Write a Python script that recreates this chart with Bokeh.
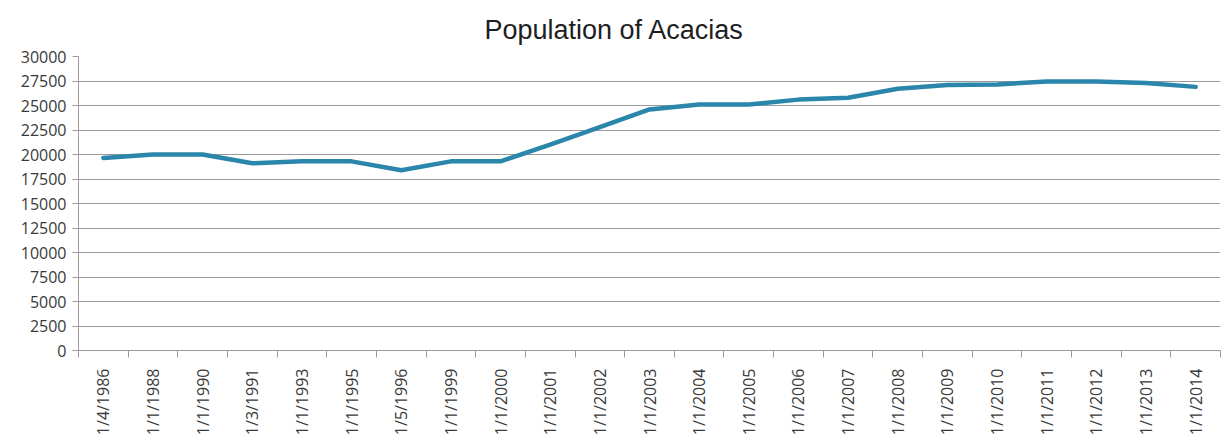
from bokeh.plotting import figure
from bokeh.models import FixedTicker, Range1d, ColumnDataSource
from bokeh.embed import file_html
from bokeh.resources import INLINE
import math

# Survey dates and counted population
dates = ["1/4/1986", "1/1/1988", "1/1/1990", "1/3/1991", "1/1/1993", "1/1/1995",
         "1/5/1996", "1/1/1999", "1/1/2000", "1/1/2001", "1/1/2002", "1/1/2003",
         "1/1/2004", "1/1/2005", "1/1/2006", "1/1/2007", "1/1/2008", "1/1/2009",
         "1/1/2010", "1/1/2011", "1/1/2012", "1/1/2013", "1/1/2014"]
population = [19650, 20000, 20000, 19100, 19300, 19300,
              18400, 19300, 19300, 21000, 22800, 24600,
              25100, 25100, 25600, 25800, 26700, 27100,
              27150, 27450, 27450, 27300, 26900]
y_ticks = list(range(0, 30001, 2500))

# Each date sits in the middle of its own slot; tick marks fall between slots
slot = [i + 0.5 for i in range(len(dates))]
source = ColumnDataSource(dict(x=slot, y=population))

p = figure(width=1224, height=448, output_backend="svg", toolbar_location=None,
           x_range=Range1d(0, len(dates)), y_range=Range1d(0, 30000),
           min_border_left=78, min_border_right=4, min_border_top=55,
           min_border_bottom=98, background_fill_color="white",
           border_fill_color="white")
p.outline_line_color = None

p.title.text = "Population of Acacias"
p.title.text_font = "Liberation Sans"
p.title.text_font_size = "27px"
p.title.text_font_style = "normal"
p.title.text_color = "#1e1e1e"
p.title.align = "left"
p.title.offset = 406
p.title.standoff = 24

grey = "#9a9a9a"
label_color = "#3a3a3a"

# x axis: labels at slot centres, small marks on slot boundaries
xa = p.xaxis[0]
xa.ticker = FixedTicker(ticks=slot, minor_ticks=list(range(len(dates) + 1)))
xa.major_label_overrides = {s: d for s, d in zip(slot, dates)}
xa.major_label_orientation = math.pi / 2
xa.major_tick_out = 0
xa.major_tick_in = 0
xa.minor_tick_out = 7
xa.minor_tick_in = 0
xa.minor_tick_line_color = grey
xa.axis_line_color = grey
xa.major_label_standoff = 11
xa.major_label_text_font = "Open Sans"
xa.major_label_text_font_size = "16px"
xa.major_label_text_color = label_color

# y axis
ya = p.yaxis[0]
ya.ticker = FixedTicker(ticks=y_ticks)
ya.major_tick_out = 6
ya.major_tick_in = 0
ya.minor_tick_out = 0
ya.minor_tick_in = 0
ya.major_tick_line_color = grey
ya.axis_line_color = grey
ya.major_label_standoff = 6
ya.major_label_text_font = "Open Sans"
ya.major_label_text_font_size = "16px"
ya.major_label_text_color = label_color

p.xgrid.visible = False
p.ygrid.ticker = FixedTicker(ticks=y_ticks)
p.ygrid.grid_line_color = grey
p.ygrid.grid_line_width = 1.2

p.line("x", "y", source=source, line_color="#2a86aa", line_width=4.5,
       line_join="round", line_cap="round")

open("out.html", "w").write(file_html(p, INLINE))
